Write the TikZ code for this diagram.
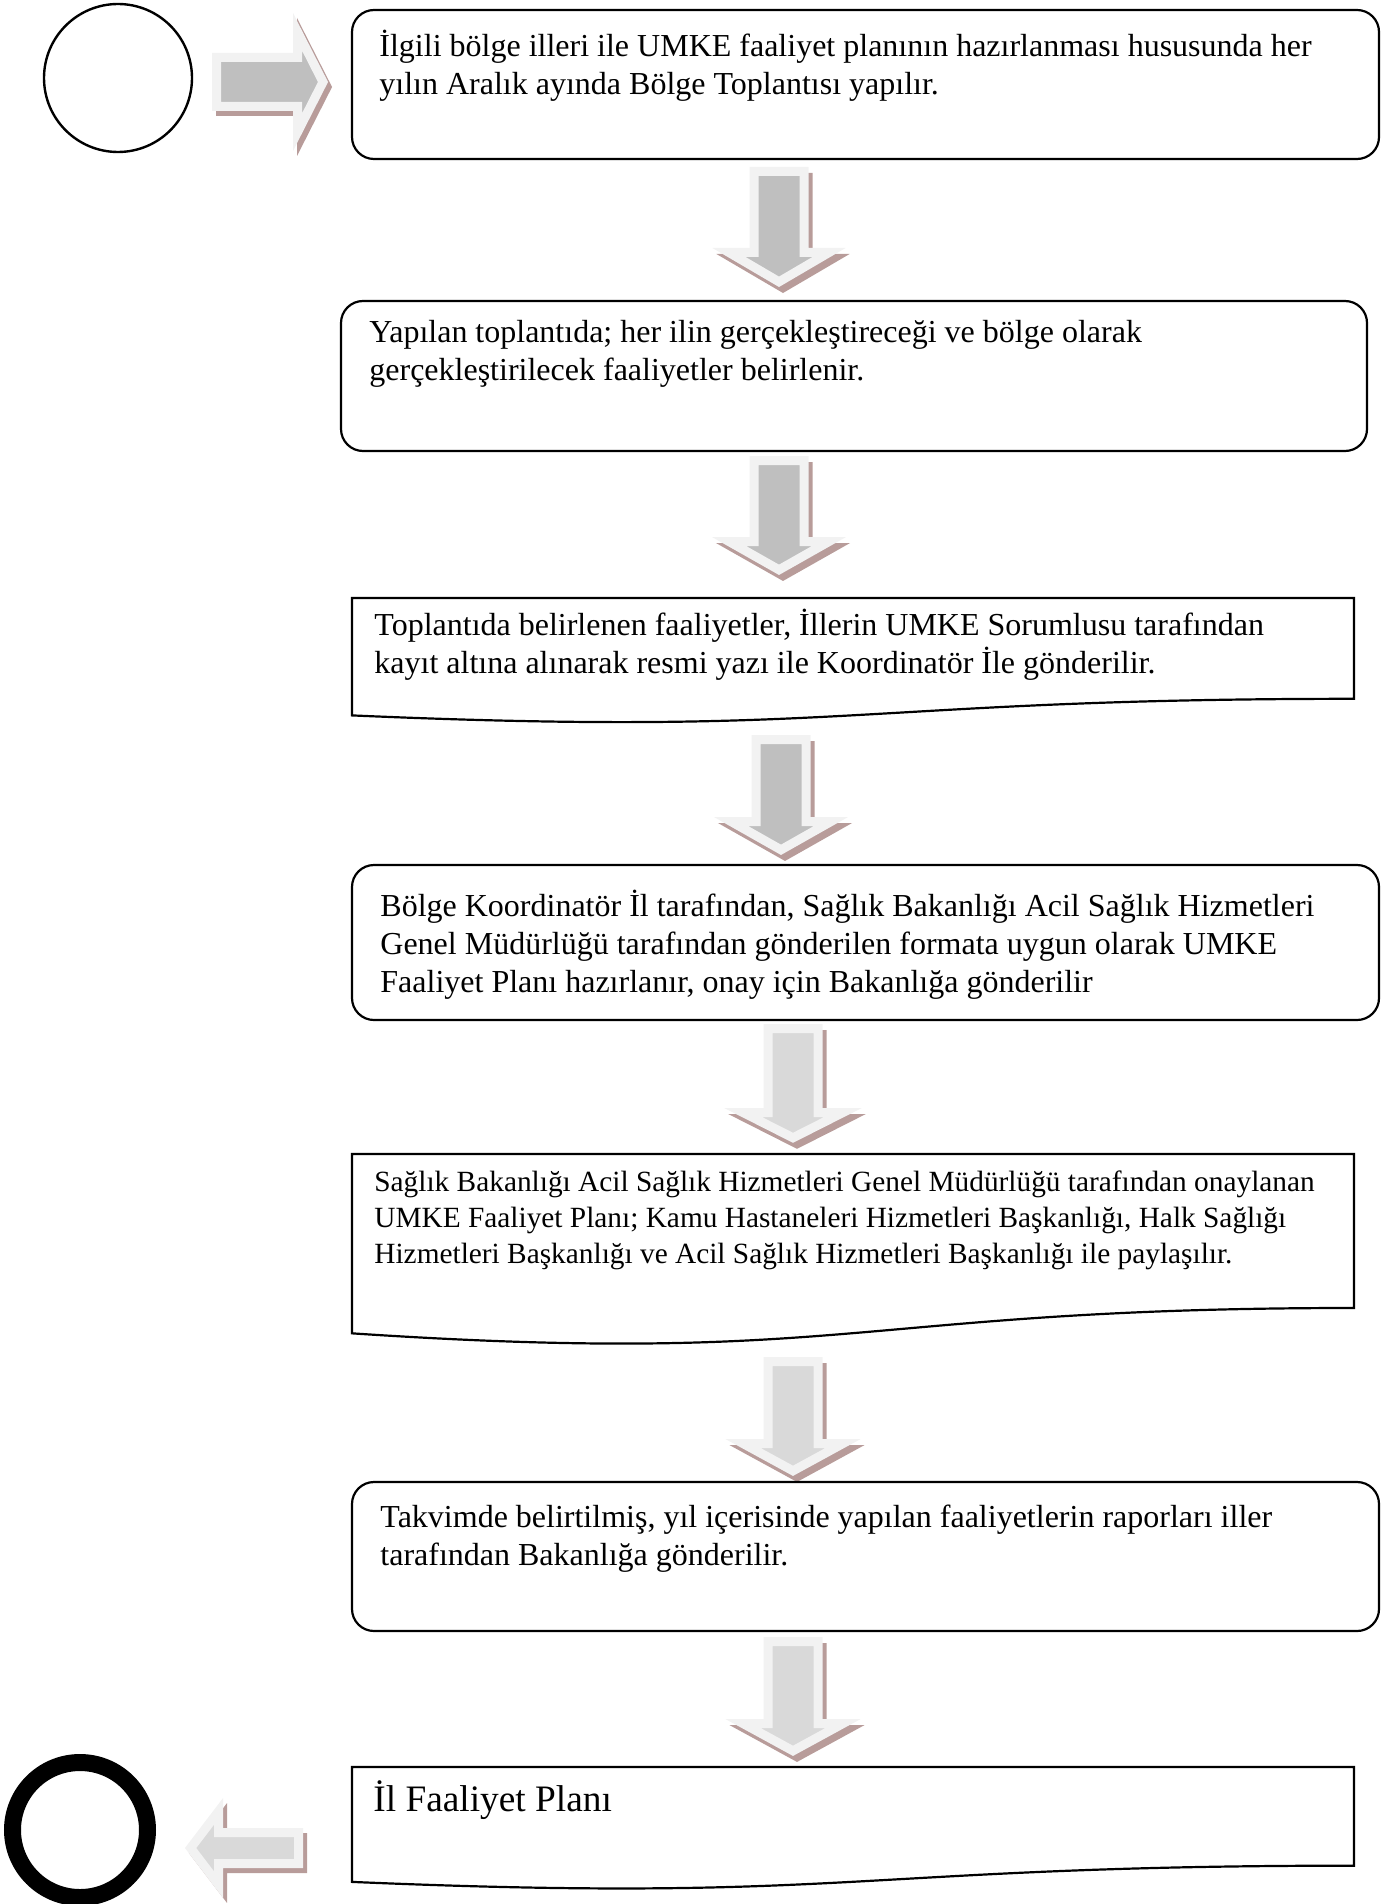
\documentclass[tikz,border=0pt]{standalone}
\usepackage{fontspec}
\setmainfont{Liberation Serif}
\definecolor{arrlight}{HTML}{F2F2F2}
\definecolor{arrdark}{HTML}{BFBFBF}
\definecolor{arrmid}{HTML}{D9D9D9}
\definecolor{arrshadow}{HTML}{B89C9A}
\tikzset{
  boxline/.style={draw=black, line width=1.1pt, line join=miter},
  rbox/.style={boxline, rounded corners=11pt},
  txt/.style={anchor=base west, inner sep=0pt, align=left, font=\fontsize{16}{19}\selectfont},
  txtsmall/.style={txt, font=\fontsize{14.67}{18}\selectfont},
  txtbig/.style={txt, font=\fontsize{18.67}{22}\selectfont},
  arrbody/.style={draw=arrlight, line width=4.5pt, miter limit=10, line join=miter},
  arrshade/.style={draw=arrshadow, fill=arrshadow, line width=4.5pt, miter limit=10, line join=miter},
}
% #1 cx, #2 top, #3 head base, #4 tip, #5 fill
\newcommand{\DownArr}[5]{%
  \path[arrshade, shift={(4,6)}] ({#1-25},{#2+4.5}) -- ({#1+25},{#2+4.5}) -- ({#1+25},{#3+4.5}) -- ({#1+50},{#3+4.5}) -- ({#1},{#4-5.2}) -- ({#1-50},{#3+4.5}) -- ({#1-25},{#3+4.5}) -- cycle;
  \path[arrbody, fill=#5] ({#1-25},{#2+4.5}) -- ({#1+25},{#2+4.5}) -- ({#1+25},{#3+4.5}) -- ({#1+50},{#3+4.5}) -- ({#1},{#4-5.2}) -- ({#1-50},{#3+4.5}) -- ({#1-25},{#3+4.5}) -- cycle;
}
% #1 left, #2 top, #3 right, #4 nominal height
\newcommand{\DocBox}[4]{%
  \draw[boxline] (#1,#2) -- (#3,#2) -- (#3,{#2+0.802*#4}) .. controls ({(#1+#3)/2},{#2+0.802*#4}) and ({(#1+#3)/2},{#2+1.1075*#4}) .. (#1,{#2+0.934*#4}) -- cycle;
}
\begin{document}
\begin{tikzpicture}[x=0.5pt,y=-0.5pt]
\useasboundingbox (0,0) rectangle (1392,1904);

% start
\draw[line width=1.2pt] (118,78) circle[radius=74];
\coordinate (startc) at (118,78);
\path[arrshade, shift={(4,5)}] (216.5,57.5) -- (297.5,57.5) -- (297.5,31.8) -- (323,82) -- (297.5,132.2) -- (297.5,106.5) -- (216.5,106.5) -- cycle;
\path[arrbody, fill=arrdark] (216.5,57.5) -- (297.5,57.5) -- (297.5,31.8) -- (323,82) -- (297.5,132.2) -- (297.5,106.5) -- (216.5,106.5) -- cycle;

% box 1
\draw[rbox] (352,10) rectangle (1379,159);
\node[txt] (t1) at (379,95) {İlgili bölge illeri ile UMKE faaliyet planının hazırlanması hususunda her\\yılın Aralık ayında Bölge Toplantısı yapılır.};

\DownArr{779}{167}{248}{287}{arrdark}

% box 2
\draw[rbox] (341,301) rectangle (1367,451);
\node[txt] (t2) at (369,380) {Yapılan toplantıda; her ilin gerçekleştireceği ve bölge olarak\\gerçekleştirilecek faaliyetler belirlenir.};

\DownArr{779}{456}{537}{575}{arrdark}

% box 3
\DocBox{352}{598}{1354}{125.7}
\node[txt] (t3) at (374,673) {Toplantıda belirlenen faaliyetler, İllerin UMKE Sorumlusu tarafından\\kayıt altına alınarak resmi yazı ile Koordinatör İle gönderilir.};

\DownArr{781}{735}{817}{855}{arrdark}

% box 4
\draw[rbox] (352,865) rectangle (1379,1020);
\node[txt] (t4) at (380,992) {Bölge Koordinatör İl tarafından, Sağlık Bakanlığı Acil Sağlık Hizmetleri\\Genel Müdürlüğü tarafından gönderilen formata uygun olarak UMKE\\Faaliyet Planı hazırlanır, onay için Bakanlığa gönderilir};

\DownArr{793}{1024}{1108}{1143}{arrmid}

% box 5
\DocBox{352}{1154}{1354}{192}
\node[txtsmall] (t5) at (374,1263) {Sağlık Bakanlığı Acil Sağlık Hizmetleri Genel Müdürlüğü tarafından onaylanan\\UMKE Faaliyet Planı; Kamu Hastaneleri Hizmetleri Başkanlığı, Halk Sağlığı\\Hizmetleri Başkanlığı ve Acil Sağlık Hizmetleri Başkanlığı ile paylaşılır.};

\DownArr{793}{1357}{1439}{1476}{arrmid}

% box 6
\draw[rbox] (352,1482) rectangle (1379,1631);
\node[txt] (t6) at (380,1565) {Takvimde belirtilmiş, yıl içerisinde yapılan faaliyetlerin raporları iller\\tarafından Bakanlığa gönderilir.};

\DownArr{793}{1637}{1719}{1756}{arrmid}

% box 7
\DocBox{352}{1767}{1354}{123}
\node[txtbig] (t7) at (373,1811) {İl Faaliyet Planı};

% end
\path[arrshade, shift={(4,5)}] (190.6,1848) -- (218.5,1811.4) -- (218.5,1832.5) -- (298.5,1832.5) -- (298.5,1863.5) -- (218.5,1863.5) -- (218.5,1884.6) -- cycle;
\path[arrbody, fill=arrmid] (190.6,1848) -- (218.5,1811.4) -- (218.5,1832.5) -- (298.5,1832.5) -- (298.5,1863.5) -- (218.5,1863.5) -- (218.5,1884.6) -- cycle;
\draw[line width=8.5pt] (80,1830) circle[radius=67.5];
\coordinate (endc) at (80,1830);
\end{tikzpicture}
\end{document}
